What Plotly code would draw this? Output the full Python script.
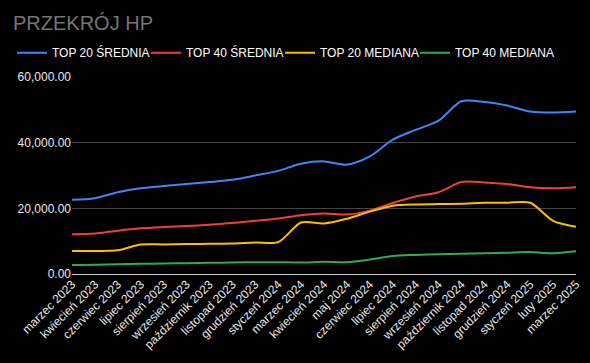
import plotly.graph_objects as go

months = ["marzec 2023", "kwiecień 2023", "czerwiec 2023", "lipiec 2023", "sierpień 2023",
          "wrzesień 2023", "październik 2023", "listopad 2023", "grudzień 2023", "styczeń 2024",
          "marzec 2024", "kwiecień 2024", "maj 2024", "czerwiec 2024", "lipiec 2024",
          "sierpień 2024", "wrzesień 2024", "październik 2024", "listopad 2024", "grudzień 2024",
          "styczeń 2025", "luty 2025", "marzec 2025"]

top20_srednia = [22600, 23100, 24900, 26100, 26800, 27400, 28000, 28700, 30000, 31400,
                 33600, 34300, 33300, 35800, 40900, 43900, 46700, 52600, 52400, 51300,
                 49500, 49200, 49500]
top40_srednia = [12100, 12300, 13200, 13900, 14300, 14600, 15000, 15500, 16200, 16900,
                 17900, 18400, 18100, 19300, 21600, 23600, 24900, 28000, 27900, 27400,
                 26400, 26100, 26400]
top20_mediana = [7000, 7000, 7200, 9000, 9000, 9100, 9200, 9300, 9600, 9700,
                 15700, 15400, 16800, 19000, 20800, 21200, 21300, 21400, 21700, 21700,
                 21700, 16200, 14400]
top40_mediana = [2750, 2800, 3000, 3100, 3200, 3300, 3400, 3500, 3600, 3600,
                 3500, 3700, 3600, 4400, 5500, 5800, 6000, 6200, 6300, 6500,
                 6700, 6300, 6900]

series = [
    ("TOP 20 ŚREDNIA", top20_srednia, "#4285F4"),
    ("TOP 40 ŚREDNIA", top40_srednia, "#EA4335"),
    ("TOP 20 MEDIANA", top20_mediana, "#FBBC04"),
    ("TOP 40 MEDIANA", top40_mediana, "#34A853"),
]
legend_ids = ["legend", "legend2", "legend3", "legend4"]
legend_x_px = [12, 146, 280, 415]

FONT = "Liberation Sans, Arial, sans-serif"

fig = go.Figure()
for (name, vals, color), lid in zip(series, legend_ids):
    fig.add_trace(go.Scatter(x=months, y=vals, name=name, mode="lines", legend=lid,
                             line=dict(color=color, width=2, shape="spline", smoothing=0.8)))

legend_common = dict(orientation="h", xref="container", xanchor="left",
                     yref="container", y=0.855, yanchor="middle",
                     font=dict(family=FONT, size=12, color="#ffffff"), itemwidth=30,
                     bgcolor="rgba(0,0,0,0)")
legends = {lid: dict(legend_common, x=px / 590) for lid, px in zip(legend_ids, legend_x_px)}

fig.update_layout(
    width=590, height=363,
    paper_bgcolor="#000000", plot_bgcolor="#000000",
    margin=dict(l=72, r=14, t=77, b=89, autoexpand=False),
    font=dict(family=FONT, color="#e8e8e8", size=12),
    title=dict(text="PRZEKRÓJ HP", x=13 / 590, xanchor="left", xref="container",
               y=0.937, yanchor="middle", yref="container",
               font=dict(family=FONT, size=20, color="#757575")),
    showlegend=True,
    **legends,
)
fig.update_xaxes(type="category", tickangle=-45, showgrid=False, showline=False,
                 tickfont=dict(size=12, color="#e8e8e8"), ticks="", automargin=False)
fig.update_yaxes(range=[0, 60000], tickvals=[0, 20000, 40000, 60000],
                 tickformat=",.2f", gridcolor="#444444", gridwidth=1,
                 zeroline=True, zerolinecolor="#cccccc", zerolinewidth=1,
                 tickfont=dict(size=12, color="#e8e8e8"), showline=False, automargin=False)

fig.write_html("out.html", config={"displayModeBar": False},
               post_script="document.body.style.margin='0';")
